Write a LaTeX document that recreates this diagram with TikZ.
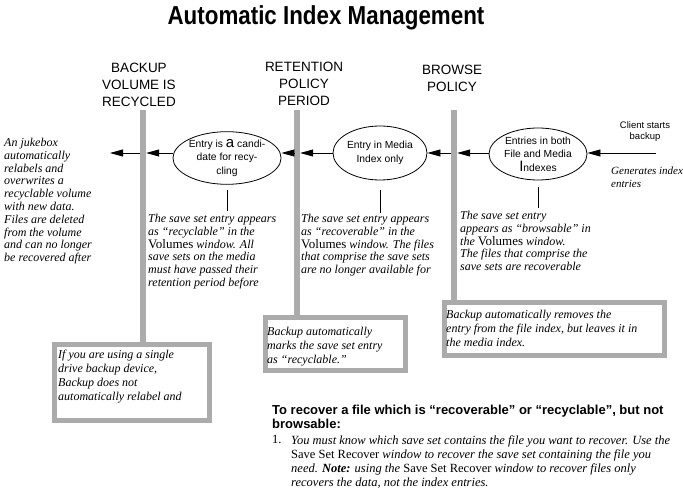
\documentclass[tikz,border=0pt]{standalone}
\usepackage{fontspec}
\setmainfont{Liberation Serif}
\setsansfont{Liberation Sans}
\newfontfamily\titlefont[FakeStretch=0.86]{Liberation Sans}
\usetikzlibrary{arrows.meta,shapes.geometric,calc}
\begin{document}
\begin{tikzpicture}[x=1pt,y=-1pt,
  hdr/.style={font=\sffamily\fontsize{13.5}{17}\selectfont, align=center, inner sep=0},
  barnode/.style={fill=black!33, minimum width=6pt, inner sep=0, draw=none},
  ell/.style={ellipse, draw, line width=0.8pt, font=\sffamily\fontsize{10.3}{13.5}\selectfont, align=center, inner sep=0},
  desc/.style={font=\itshape\fontsize{12}{12.8}\selectfont, align=left, anchor=north west, inner sep=0},
  boxtxt/.style={desc, font=\itshape\fontsize{12}{14}\selectfont},
  frame/.style={draw=black!33, line width=5pt, fill=white, inner sep=0},
  arr/.style={line width=0.8pt, -{Triangle[length=13pt,width=7pt]}},
  stem/.style={line width=0.8pt}
]
\useasboundingbox[fill=white] (0,0) rectangle (683,497);

% title
\node[font=\titlefont\bfseries\fontsize{26}{26}\selectfont, inner sep=0] (title) at (326,18) {Automatic Index Management};

% headers
\node[hdr] (h1) at (139,85) {BACKUP\\VOLUME IS\\RECYCLED};
\node[hdr] (h2) at (304,84) {RETENTION\\POLICY\\PERIOD};
\node[hdr] (h3) at (452,78) {BROWSE\\POLICY};

% bars
\node[barnode, minimum height=234pt] (b1) at (143,227) {};
\node[barnode, minimum height=207pt] (b2) at (297,213.5) {};
\node[barnode, minimum height=192pt] (b3) at (454,206) {};

% boxes
\node[frame, minimum width=155pt, minimum height=76pt] (n1) at (132,382.5) {};
\node[frame, minimum width=140pt, minimum height=53pt] (n2) at (335.5,344) {};
\node[frame, minimum width=220pt, minimum height=53pt] (n3) at (554.5,329) {};

% ellipses
\node[ell, minimum width=92pt, minimum height=46pt] (e1) at (227,158) {Entry is {\fontsize{15}{12}\selectfont a} candi-\\date for recy-\\cling};
\node[ell, minimum width=94pt, minimum height=54pt] (e2) at (380,153) {Entry in Media\\Index only};
\node[ell, minimum width=98pt, minimum height=52pt] (e3) at (538,154) {Entries in both\\File and Media\\{\fontsize{15}{12}\selectfont I}ndexes};

% arrows
\coordinate (cs) at (656,153);
\coordinate (endl) at (110,153);
\draw[arr] (cs) -- (cs -| e3.east);
\draw[arr] (e2.east -| e3.west) -- (e2.east -| b3.east);
\draw[arr] (b3.west |- e2.east) -- (e2.east);
\draw[arr] (e2.west) -- (e2.west -| b2.east);
\draw[arr] (b2.west |- e2.west) -- (e2.west -| e1.east);
\draw[arr] (e2.west -| e1.west) -- (e2.west -| b1.east);
\draw[arr] (b1.west |- e2.west) -- (endl);

% stems
\draw[stem] ($(e1.south)+(0,5)$) -- ++(0,21);
\draw[stem] ($(e2.south)+(0,10)$) -- ++(0,23);
\draw[stem] ($(e3.south)+(0,7)$) -- ++(0,21);

% labels near start
\node[font=\sffamily\fontsize{9.5}{11}\selectfont, align=center, inner sep=0] (cl) at (645,132) {Client starts\\backup};
\node[desc, font=\itshape\fontsize{11}{12.8}\selectfont] (gen) at (611,167) {Generates index\\entries};

% descriptions
\node[desc] (dl) at (4,138) {An jukebox\\automatically\\relabels and\\overwrites a\\recyclable volume\\with new data.\\Files are deleted\\from the volume\\and can no longer\\be recovered after};
\node[desc] (d1) at (148,214) {The save set entry appears\\as “recyclable” in the\\{\upshape\fontsize{13}{12.8}\selectfont Volumes} window. All\\save sets on the media\\must have passed their\\retention period before};
\node[desc] (d2) at (301,214) {The save set entry appears\\as “recoverable” in the\\{\upshape\fontsize{13}{12.8}\selectfont Volumes} window. The files\\that comprise the save sets\\are no longer available for};
\node[desc] (d3) at (460,211) {The save set entry\\appears as “browsable” in\\the {\upshape\fontsize{13}{12.8}\selectfont Volumes} window.\\The files that comprise the\\save sets are recoverable};

% box texts
\node[boxtxt] (t1) at (58,350) {If you are using a single\\drive backup device,\\Backup does not\\automatically relabel and};
\node[boxtxt] (t2) at (267,327) {Backup automatically\\marks the save set entry\\as “recyclable.”};
\node[boxtxt] (t3) at (446,310) {Backup automatically removes the\\entry from the file index, but leaves it in\\the media index.};

% bottom note
\node[font=\sffamily\bfseries\fontsize{13}{13.5}\selectfont, align=left, anchor=north west, inner sep=0] (rec) at (272,405) {To recover a file which is “recoverable” or “recyclable”, but not\\browsable:};
\node[font=\fontsize{12.5}{14.3}\selectfont, anchor=north west, inner sep=0] (num) at (272,435) {1.};
\node[desc, font=\itshape\fontsize{12.5}{14.3}\selectfont] (step1) at (291,435) {You must know which save set contains the file you want to recover. Use the\\{\upshape Save Set Recover} window to recover the save set containing the file you\\need. \textbf{Note:} using the {\upshape Save Set Recover} window to recover files only\\recovers the data, not the index entries.};
\end{tikzpicture}
\end{document}
